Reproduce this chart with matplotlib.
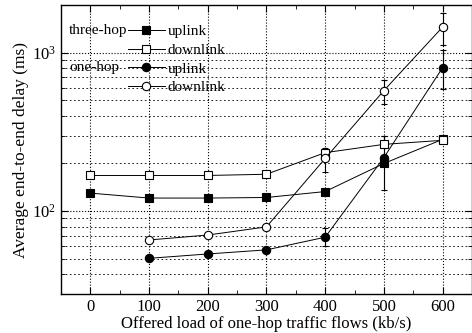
# end-to-end delay vs offered one-hop load

import matplotlib
matplotlib.use('Agg')
import matplotlib.pyplot as plt
import matplotlib.ticker as mticker
import numpy as np

plt.rcParams['font.family'] = ['Liberation Serif', 'DejaVu Serif']
plt.rcParams['mathtext.fontset'] = 'custom'
plt.rcParams['mathtext.rm'] = 'Liberation Serif'

# data
load_three = [0, 100, 200, 300, 400, 500, 600]
three_up = [130, 121, 121, 122, 133, 200, 284]
three_up_lo = [0, 0, 0, 0, 0, 0, 0]
three_up_hi = [0, 0, 0, 0, 0, 0, 0]
three_down = [168, 168, 168, 171, 234, 264, 280]
three_down_lo = [0, 0, 0, 0, 14, 0, 0]
three_down_hi = [0, 0, 0, 0, 18, 34, 0]

load_one = [100, 200, 300, 400, 500, 600]
one_up = [50.4, 53.7, 57, 68.5, 218, 805]
one_up_lo = [0, 0, 0, 8, 82, 213]
one_up_hi = [0, 0, 0, 9.3, 80, 229]
one_down = [65.8, 70.7, 79.6, 215, 577, 1452]
one_down_lo = [0, 0, 0, 38, 102, 341]
one_down_hi = [0, 0, 0, 25, 96, 340]

fig = plt.figure(figsize=(4.72, 3.33), dpi=100)
ax = fig.add_axes([0.129, 0.117, 0.871, 0.868])

kw = dict(color='k', lw=0.7, ms=6, capsize=2.5, elinewidth=0.8, capthick=0.8, mec='k', mew=0.8)
h1 = ax.errorbar(load_three, three_up, yerr=[three_up_lo, three_up_hi], marker='s', mfc='k', **kw)
h2 = ax.errorbar(load_three, three_down, yerr=[three_down_lo, three_down_hi], marker='s', mfc='w', **kw)
h3 = ax.errorbar(load_one, one_up, yerr=[one_up_lo, one_up_hi], marker='o', mfc='k', **kw)
h4 = ax.errorbar(load_one, one_down, yerr=[one_down_lo, one_down_hi], marker='o', mfc='w', **kw)

ax.set_yscale('log')
ax.set_ylim(30, 2000)
ax.set_xlim(-50, 650)
ax.set_xticks(np.arange(0, 601, 100))
ax.xaxis.set_minor_locator(mticker.MultipleLocator(50))
ax.yaxis.set_minor_formatter(mticker.NullFormatter())

ax.tick_params(which='both', direction='in', top=True, right=True, labelsize=12)
ax.tick_params(which='major', length=5)
ax.tick_params(which='minor', length=3)
ax.grid(True, which='major', ls=':', color='k', lw=0.8)
ax.grid(True, which='minor', axis='y', ls=(0, (2, 3)), color='k', lw=0.6)
for s in ax.spines.values():
    s.set_linewidth(1.0)

ax.set_xlabel('Offered load of one-hop traffic flows (kb/s)', fontsize=12, labelpad=1)
ax.set_ylabel('Average end-to-end delay (ms)', fontsize=12.5, labelpad=2)

handles = [h[0] for h in (h1, h2, h3, h4)]
ax.legend(handles, ['uplink', 'downlink', 'uplink', 'downlink'], loc='upper left',
          bbox_to_anchor=(0.163, 0.932), frameon=False, fontsize=11,
          handlelength=2.4, handletextpad=0.2, labelspacing=0.32,
          borderpad=0, borderaxespad=0)
ax.text(0.019, 0.911, 'three-hop', transform=ax.transAxes, fontsize=11, va='center')
ax.text(0.021, 0.783, 'one-hop', transform=ax.transAxes, fontsize=11, va='center')

plt.savefig('out.png', dpi=100)
